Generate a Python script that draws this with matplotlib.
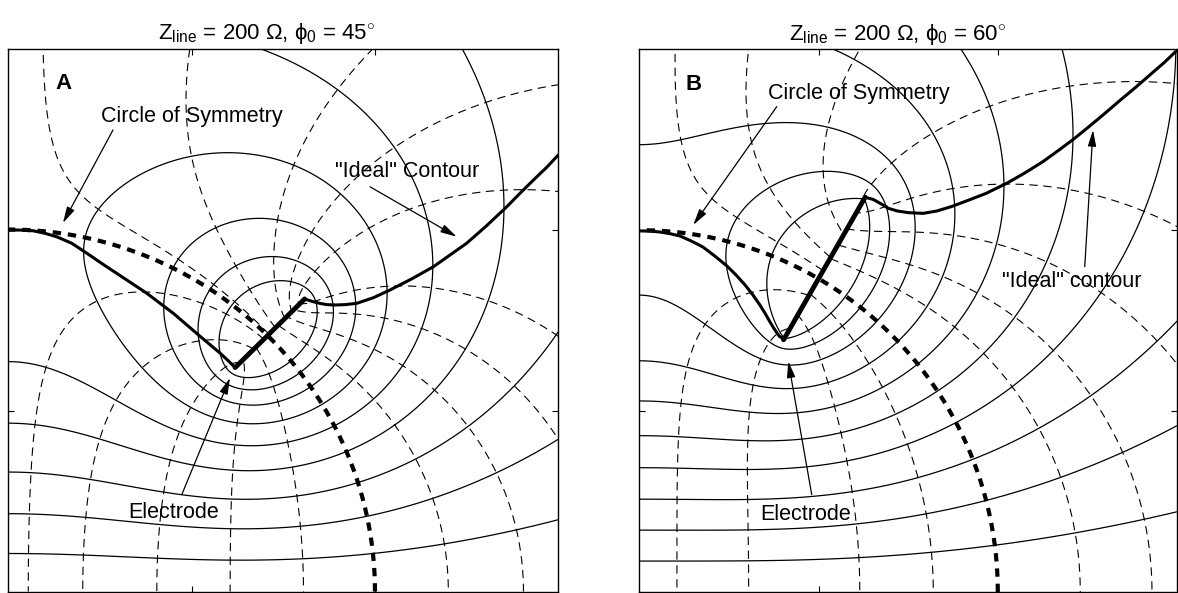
import numpy as np
import matplotlib
matplotlib.use('Agg')
from matplotlib import pyplot as plt

plt.rcParams['font.family'] = ['Liberation Sans', 'DejaVu Sans']
plt.rcParams['mathtext.fontset'] = 'custom'
plt.rcParams['mathtext.rm'] = 'Liberation Sans'
plt.rcParams['mathtext.it'] = 'Liberation Sans:italic'
plt.rcParams['mathtext.bf'] = 'Liberation Sans:bold'
plt.rcParams['lines.scale_dashes'] = False

Z_LINE = 200.0   # ohm, radius of the circle of symmetry
Z_MAX = 300.0    # both axes run 0..300 ohm

# ---------------- panel A, phi0 = 45 deg
phi_a = 45.0
elec_a = [175.0, 228.6]                      # |Z| at the two ends of the electrode
left_a = [21.0, 43.0, 66.0, 93.0, 127.0]     # solid lines met on Re Z = 0
nsolid_a = 9
bottom_a = [10.9, 40.6, 81.0, 121.0, 161.0, 240.0, 281.0]   # dashed lines met on Im Z = 0
right_a = [84.0, 141.0, 221.0, 280.0]                      # ... on the right edge
top_a = [19.0, 99.0, 199.0]                                # ... on the top edge
ideal_a_lo_x = [0.0, 6.4, 13.6, 20.0, 26.4, 34.6, 42.8, 50.9, 59.1, 75.5, 90.0,
                104.6, 115.5, 120.5, 123.7]
ideal_a_lo_y = [199.7, 199.7, 199.3, 197.9, 196.0, 192.4, 186.9, 181.3, 175.8, 164.8,
                153.7, 141.0, 131.7, 127.0, 123.7]
ideal_a_hi_x = [161.6, 166.4, 170.0, 173.7, 178.2, 183.7, 190.0, 199.1, 208.2, 220.0,
                231.8, 240.9, 250.0, 260.9, 271.9, 279.1, 286.4, 293.7, 300.0]
ideal_a_hi_y = [161.6, 160.1, 159.2, 158.5, 158.3, 158.5, 159.2, 162.3, 166.6, 172.7,
                179.4, 185.9, 192.4, 202.1, 212.6, 220.0, 227.3, 234.4, 241.2]

# ---------------- panel B, phi0 = 60 deg
phi_b = 60.0
elec_b = [161.0, 252.0]
left_b = [17.1, 34.2, 51.3, 68.7, 86.4, 105.6, 127.8, 164.1]
nsolid_b = 10
bottom_b = [21.0, 61.0, 123.0, 164.0, 246.0, 286.0]
right_b = [126.0, 202.0, 281.0]
top_b = [20.0, 61.0, 123.0]
ideal_b_lo_x = [0.0, 5.7, 11.5, 17.0, 22.7, 29.0, 35.5, 42.0, 48.9, 54.0, 59.0, 63.3,
                67.3, 70.2, 72.9, 74.9, 76.8, 78.2, 79.5, 80.5]
ideal_b_lo_y = [199.6, 199.5, 199.0, 198.1, 196.8, 194.0, 190.7, 185.8, 180.2, 175.2,
                169.7, 164.3, 158.6, 154.0, 149.3, 146.0, 143.2, 141.3, 140.5, 139.4]
ideal_b_hi_x = [126.0, 130.5, 134.3, 138.9, 144.0, 150.0, 158.3, 166.0, 174.0, 183.7,
                193.6, 205.7, 215.5, 225.2, 234.0, 242.9, 250.8, 258.7, 268.0, 277.3,
                286.0, 293.0, 300.0]
ideal_b_hi_y = [218.2, 217.0, 214.9, 212.1, 210.6, 209.7, 209.3, 210.6, 213.0, 216.6,
                220.4, 226.3, 231.9, 237.9, 244.2, 250.8, 257.2, 263.7, 271.6, 279.3,
                286.8, 292.8, 299.5]


def seg_w(z, a, b, e):
    # uniform line source a..b, log branch cut running outward along e
    le = np.log(-e)

    def f(w):
        return w * (np.log(-w / e) + le) - w
    return (f(z - a) - f(z - b)) / (b - a)


def field(z, phi0, r1, r2, pieces=16):
    # electrode along a ray, density uniform in log|Z|, imaged in both axes
    e = np.exp(1j * np.deg2rad(phi0))
    ec = np.conj(e)
    knots = np.geomspace(r1, r2, pieces + 1)
    wts = np.diff(np.log(knots)) / np.log(r2 / r1)
    out = np.zeros(np.shape(z), dtype=complex)
    for k0, k1, wt in zip(knots[:-1], knots[1:], wts):
        out += wt * (seg_w(z, k0 * e, k1 * e, e)
                     - seg_w(z, k0 * ec, k1 * ec, ec)
                     + seg_w(z, -k0 * ec, -k1 * ec, -ec)
                     - seg_w(z, -k0 * e, -k1 * e, -e))
    return out


def draw_panel(ax, tag, phi0, elec, left, nsolid, bottom, right, top,
               lo_x, lo_y, hi_x, hi_y, title_x):
    xs = np.linspace(0, Z_MAX, 601)
    X, Y = np.meshgrid(xs, xs)
    W = field(X + 1j * Y, phi0, *elec)
    U, V = W.real, W.imag

    # equipotentials: the ones met on the left edge, then closed ones around the electrode
    u_left = list(field(1j * np.array(left), phi0, *elec).real)
    step = np.mean(np.diff(u_left))
    levels = u_left + [u_left[-1] + step * j for j in range(1, nsolid - len(left) + 1)]
    ax.contour(X, Y, U, levels=sorted(levels), colors='black', linewidths=0.9,
               linestyles='solid')

    # field lines through the boundary points
    pts = np.concatenate([np.array(bottom) + 0j,
                          Z_MAX + 1j * np.array(right),
                          np.array(top) + 1j * Z_MAX])
    for c in field(pts, phi0, *elec).imag:
        g = np.ma.masked_where(np.cos(V - c) < 0, np.sin(V - c))
        ax.contour(X, Y, g, levels=[0], colors='black', linewidths=0.8,
                   linestyles=[(0, (6, 4))])

    # circle of symmetry
    th = np.linspace(0, np.pi / 2, 300)
    ax.plot(Z_LINE * np.cos(th), Z_LINE * np.sin(th), color='black', lw=3.0,
            dashes=(6, 5))
    # ideal contour
    ax.plot(lo_x, lo_y, color='black', lw=2.2, solid_joinstyle='round',
            solid_capstyle='round')
    ax.plot(hi_x, hi_y, color='black', lw=2.2, solid_joinstyle='round',
            solid_capstyle='round')
    # electrode
    ph = np.deg2rad(phi0)
    ax.plot(np.array(elec) * np.cos(ph), np.array(elec) * np.sin(ph),
            color='black', lw=3.5, solid_capstyle='round')

    ax.set_xlim(0, Z_MAX)
    ax.set_ylim(0, Z_MAX)
    ax.set_xticks([100, 200])
    ax.set_yticks([100, 200])
    ax.tick_params(direction='in', length=4, width=0.8, top=True, right=True,
                   labelbottom=False, labelleft=False)
    for sp in ax.spines.values():
        sp.set_linewidth(1.0)
    ax.text(0.10, 0.936, tag, transform=ax.transAxes, fontsize=16,
            fontweight='bold', ha='center', va='center')
    ax.set_title('Z$_{\\rm line}$ = %d Ω, ϕ$_0$ = %d$^{\\circ}$' % (Z_LINE, phi0),
                 fontsize=16, x=title_x, pad=7)


def arrow(ax, tail, tip):
    ax.annotate('', xy=tip, xytext=tail,
                arrowprops=dict(arrowstyle='-|>,head_length=0.7,head_width=0.18',
                                lw=0.9, color='black', shrinkA=0, shrinkB=0,
                                mutation_scale=14))


fig = plt.figure(figsize=(11.78, 5.93), dpi=100)
ax_a = fig.add_axes([0.00705, 0.0025, 0.4669, 0.9157])
ax_b = fig.add_axes([0.5427, 0.0017, 0.4565, 0.9152])

draw_panel(ax_a, 'A', phi_a, elec_a, left_a, nsolid_a, bottom_a, right_a, top_a,
           ideal_a_lo_x, ideal_a_lo_y, ideal_a_hi_x, ideal_a_hi_y, 0.47)
draw_panel(ax_b, 'B', phi_b, elec_b, left_b, nsolid_b, bottom_b, right_b, top_b,
           ideal_b_lo_x, ideal_b_lo_y, ideal_b_hi_x, ideal_b_hi_y, 0.48)

fs = 15.5
ax_a.text(100.2, 262.3, 'Circle of Symmetry', fontsize=fs, ha='center', va='center')
arrow(ax_a, (57.1, 255.0), (29.8, 203.6))
ax_a.text(217.7, 231.9, '"Ideal" Contour', fontsize=fs, ha='center', va='center')
arrow(ax_a, (197.3, 223.6), (244.6, 196.0))
ax_a.text(90.4, 43.4, 'Electrode', fontsize=fs, ha='center', va='center')
arrow(ax_a, (94.6, 53.5), (120.9, 118.0))

ax_b.text(122.6, 275.7, 'Circle of Symmetry', fontsize=fs, ha='center', va='center')
arrow(ax_b, (76.7, 268.3), (30.1, 202.9))
ax_b.text(241.4, 171.5, '"Ideal" contour', fontsize=fs, ha='center', va='center')
arrow(ax_b, (248.5, 179.8), (253.1, 255.4))
ax_b.text(93.0, 42.7, 'Electrode', fontsize=fs, ha='center', va='center')
arrow(ax_b, (96.2, 53.8), (83.1, 127.5))

fig.savefig('out.png', dpi=100)
